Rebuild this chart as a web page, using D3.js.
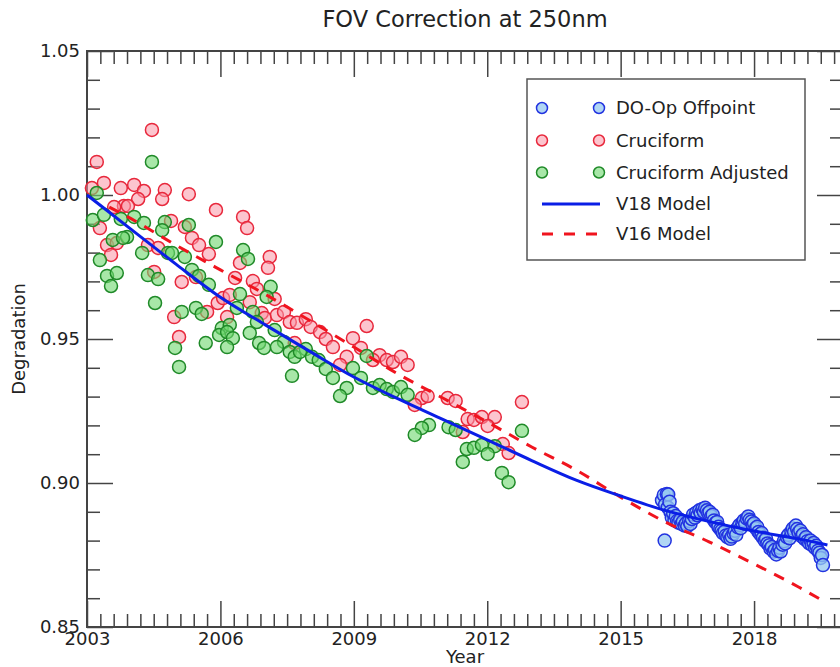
<!doctype html>
<html lang="en">
<head>
<meta charset="UTF-8">
<title>FOV Correction</title>
<style>
    body { margin: 0; background: #fff; }
    text { font-family: "DejaVu Sans", sans-serif; fill: #222; }
</style>
</head>
<body>
<div id="chart"></div>
<script src="https://d3js.org/d3.v7.min.js"></script>
<script>

    const title = 'FOV Correction at 250nm'
    const xLabel = 'Year'
    const yLabel = 'Degradation'

    const xTickLabels = [2003, 2006, 2009, 2012, 2015, 2018]
    const yTickLabels = [0.85, 0.90, 0.95, 1.00, 1.05]

    // Cruciform (red), [year, value]
    const cruciform = [
        [2003.22,1.0115],[2004.46,1.0226],[2003.11,1.0024],[2003.38,1.0042],[2003.76,1.0024],
        [2004.06,1.0035],[2004.28,1.0014],[2004.75,1.0017],[2004.69,0.9986],[2005.29,1.0003],
        [2005.90,0.9948],[2004.15,0.9986],[2003.83,0.9962],[2003.92,0.9962],[2003.61,0.9958],
        [2004.89,0.9910],[2005.20,0.9889],[2003.29,0.9885],[2005.36,0.9851],[2005.52,0.9826],
        [2005.74,0.9795],[2003.45,0.9826],[2003.54,0.9792],[2003.67,0.9833],[2004.37,0.9826],
        [2004.60,0.9816],[2004.51,0.9733],[2005.13,0.9698],[2005.45,0.9715],[2005.94,0.9625],
        [2004.96,0.9576],[2005.07,0.9507],[2005.70,0.9594],[2006.06,0.9642],[2006.51,0.9924],
        [2006.60,0.9885],[2007.11,0.9785],[2007.07,0.9747],[2006.44,0.9764],[2006.33,0.9712],
        [2006.73,0.9701],[2006.82,0.9674],[2006.21,0.9653],[2006.66,0.9628],[2007.22,0.9639],
        [2006.15,0.9576],[2006.93,0.9590],[2007.00,0.9573],[2007.27,0.9583],[2007.43,0.9594],
        [2007.56,0.9559],[2007.72,0.9556],[2007.92,0.9569],[2008.03,0.9542],[2008.24,0.9524],
        [2008.37,0.9500],[2008.53,0.9472],[2008.98,0.9503],[2008.84,0.9438],[2008.69,0.9410],
        [2007.67,0.9486],[2009.29,0.9545],[2009.16,0.9469],[2009.58,0.9444],[2009.74,0.9427],
        [2009.88,0.9420],[2010.06,0.9438],[2010.21,0.9410],[2009.43,0.9427],[2010.53,0.9295],
        [2010.66,0.9302],[2010.37,0.9271],[2011.11,0.9295],[2011.29,0.9285],[2012.78,0.9281],
        [2011.56,0.9222],[2011.70,0.9219],[2011.88,0.9229],[2012.17,0.9229],[2012.01,0.9198],
        [2011.45,0.9177],[2012.35,0.9135],[2012.48,0.9104]
    ]

    // Cruciform Adjusted (green)
    const cruciformAdj = [
        [2004.46,1.0115],[2003.22,1.0007],[2003.13,0.9913],[2003.38,0.9931],[2003.76,0.9917],
        [2004.06,0.9924],[2004.28,0.9903],[2004.75,0.9906],[2004.69,0.9878],[2005.29,0.9896],
        [2005.90,0.9837],[2003.58,0.9844],[2003.90,0.9854],[2003.81,0.9851],[2004.24,0.9799],
        [2003.29,0.9774],[2004.82,0.9799],[2004.91,0.9799],[2005.20,0.9785],[2005.36,0.9740],
        [2005.52,0.9719],[2005.74,0.9688],[2003.45,0.9719],[2003.67,0.9729],[2003.54,0.9684],
        [2004.37,0.9722],[2004.60,0.9708],[2004.53,0.9625],[2005.13,0.9594],[2005.45,0.9608],
        [2005.58,0.9587],[2006.03,0.9538],[2005.97,0.9514],[2005.67,0.9486],[2004.98,0.9469],
        [2005.07,0.9403],[2006.51,0.9809],[2006.62,0.9778],[2007.13,0.9681],[2007.04,0.9646],
        [2006.44,0.9656],[2006.37,0.9608],[2006.73,0.9594],[2006.82,0.9559],[2006.21,0.9549],
        [2006.15,0.9524],[2006.28,0.9503],[2006.15,0.9472],[2006.66,0.9521],[2007.22,0.9531],
        [2007.43,0.9490],[2007.27,0.9472],[2006.87,0.9486],[2006.98,0.9469],[2007.56,0.9455],
        [2007.67,0.9438],[2007.92,0.9465],[2007.79,0.9455],[2008.06,0.9438],[2008.21,0.9427],
        [2008.37,0.9396],[2008.53,0.9365],[2007.61,0.9372],[2008.84,0.9330],[2008.69,0.9302],
        [2008.98,0.9399],[2009.29,0.9441],[2009.16,0.9365],[2009.43,0.9330],[2009.58,0.9340],
        [2009.74,0.9326],[2009.88,0.9316],[2010.06,0.9333],[2010.21,0.9306],[2010.69,0.9201],
        [2010.53,0.9191],[2010.37,0.9167],[2011.13,0.9194],[2011.29,0.9184],[2012.78,0.9181],
        [2011.54,0.9118],[2011.70,0.9122],[2011.88,0.9132],[2012.17,0.9128],[2012.01,0.9101],
        [2011.45,0.9073],[2012.33,0.9035],[2012.48,0.9003]
    ]

    // DO-Op Offpoint (blue)
    const offpoint = [
        [2015.93,0.8940],[2015.97,0.8958],[2016.00,0.8925],[2016.04,0.8962],[2016.07,0.8960],
        [2015.99,0.8800],[2016.06,0.8915],[2016.10,0.8935],[2016.12,0.8900],[2016.15,0.8880],
        [2016.18,0.8895],[2016.21,0.8870],[2016.24,0.8885],[2016.27,0.8868],[2016.30,0.8862],
        [2016.34,0.8872],[2016.37,0.8858],[2016.40,0.8866],[2016.44,0.8852],[2016.47,0.8860],
        [2016.50,0.8850],[2016.54,0.8868],[2016.57,0.8858],[2016.60,0.8875],[2016.63,0.8890],
        [2016.67,0.8880],[2016.70,0.8897],[2016.73,0.8888],[2016.77,0.8905],[2016.80,0.8895],
        [2016.84,0.8910],[2016.87,0.8900],[2016.90,0.8914],[2016.94,0.8905],[2016.97,0.8895],
        [2017.00,0.8900],[2017.04,0.8885],[2017.07,0.8890],[2017.10,0.8870],[2017.14,0.8862],
        [2017.17,0.8865],[2017.20,0.8848],[2017.24,0.8840],[2017.27,0.8835],[2017.30,0.8826],
        [2017.34,0.8832],[2017.37,0.8818],[2017.40,0.8812],[2017.44,0.8820],[2017.47,0.8806],
        [2017.50,0.8814],[2017.54,0.8825],[2017.57,0.8834],[2017.60,0.8820],[2017.64,0.8846],
        [2017.67,0.8854],[2017.70,0.8843],[2017.74,0.8862],[2017.77,0.8870],[2017.80,0.8858],
        [2017.84,0.8876],[2017.87,0.8884],[2017.90,0.8872],[2017.94,0.8866],[2017.97,0.8855],
        [2018.00,0.8860],[2018.04,0.8843],[2018.07,0.8848],[2018.10,0.8830],[2018.14,0.8822],
        [2018.17,0.8826],[2018.20,0.8810],[2018.24,0.8800],[2018.27,0.8806],[2018.30,0.8790],
        [2018.34,0.8784],[2018.37,0.8772],[2018.40,0.8778],[2018.44,0.8762],[2018.47,0.8768],
        [2018.50,0.8752],[2018.54,0.8764],[2018.57,0.8775],[2018.60,0.8762],[2018.64,0.8786],
        [2018.67,0.8798],[2018.70,0.8790],[2018.74,0.8812],[2018.77,0.8820],[2018.80,0.8808],
        [2018.84,0.8832],[2018.87,0.8842],[2018.90,0.8830],[2018.94,0.8852],[2018.97,0.8840],
        [2019.00,0.8828],[2019.04,0.8835],[2019.07,0.8815],[2019.10,0.8822],[2019.14,0.8805],
        [2019.17,0.8812],[2019.20,0.8798],[2019.24,0.8790],[2019.27,0.8800],[2019.30,0.8785],
        [2019.34,0.8792],[2019.37,0.8775],[2019.40,0.8782],[2019.44,0.8765],[2019.47,0.8758],
        [2019.50,0.8740],[2019.53,0.8750],[2019.55,0.8715]
    ]

    // models
    const v18Years = [2003, 2004, 2005, 2006, 2007, 2008, 2009, 2010, 2011, 2012, 2013, 2014, 2015, 2016, 2017, 2018, 2019, 2019.65]
    const v18Values = [1.000, 0.988, 0.976, 0.9645, 0.955, 0.9458, 0.9368, 0.9292, 0.9221, 0.915, 0.9078, 0.9010, 0.8955, 0.8905, 0.8866, 0.8833, 0.8806, 0.8785]
    const v16Years = [2003.5, 2004, 2005, 2006, 2007, 2008, 2009, 2010, 2011, 2012, 2013, 2014, 2015, 2016, 2017, 2018, 2019, 2019.48]
    const v16Values = [0.9958, 0.9917, 0.9826, 0.974, 0.9656, 0.9565, 0.9472, 0.9378, 0.9295, 0.9212, 0.9125, 0.9045, 0.8951, 0.8865, 0.8795, 0.8719, 0.8639, 0.8597]

    const legendLabels = ['DO-Op Offpoint', 'Cruciform', 'Cruciform Adjusted', 'V18 Model', 'V16 Model']

    const W = 840, H = 667
    const margin = { top: 51, right: -3, bottom: 40, left: 87 }
    const width = W - margin.left - margin.right
    const height = H - margin.top - margin.bottom

    const svg = d3.select('#chart').append('svg')
        .attr('width', W).attr('height', H)
    const g = svg.append('g')
        .attr('transform', 'translate(' + margin.left + ',' + margin.top + ')')

    const x = d3.scaleLinear().domain([2003, 2020]).range([0, width])
    const y = d3.scaleLinear().domain([0.85, 1.05]).range([height, 0])

    const xMinor = d3.range(2003, 2020.01, 0.3).filter(v => Math.abs((v - 2003) % 3) > 0.01 && Math.abs((v - 2003) % 3 - 3) > 0.01)
    const yMinor = d3.range(0.85, 1.0501, 0.01).filter(v => Math.abs(v * 20 - Math.round(v * 20)) > 0.01)

    // axes: major + minor, all four sides, ticks pointing inward
    function addAxis(axisFn, transform, values, size, fmt, pad) {
        const a = axisFn.tickValues(values).tickSize(size).tickSizeOuter(0).tickPadding(pad)
        if (fmt) a.tickFormat(fmt)
        else a.tickFormat('')
        const ax = g.append('g').attr('transform', transform).call(a)
        ax.select('.domain').remove()
        ax.selectAll('line').attr('stroke', '#444').attr('stroke-width', 1.5)
        ax.selectAll('text').style('font-size', '18px').attr('fill', '#222')
        return ax
    }
    addAxis(d3.axisBottom(x), 'translate(0,' + height + ')', xTickLabels, -26, d3.format('d'), 5)
    addAxis(d3.axisBottom(x), 'translate(0,' + height + ')', xMinor, -13, null, 5)
    addAxis(d3.axisTop(x), 'translate(0,0)', xTickLabels, -26, null, 5)
    addAxis(d3.axisTop(x), 'translate(0,0)', xMinor, -13, null, 5)
    addAxis(d3.axisLeft(y), 'translate(0,0)', yTickLabels, -26, d3.format('.2f'), 7)
    addAxis(d3.axisLeft(y), 'translate(0,0)', yMinor, -13, null, 7)
    addAxis(d3.axisRight(y), 'translate(' + width + ',0)', yTickLabels, -26, null, 7)
    addAxis(d3.axisRight(y), 'translate(' + width + ',0)', yMinor, -13, null, 7)

    g.append('rect')
        .attr('width', width).attr('height', height)
        .attr('fill', 'none').attr('stroke', '#444').attr('stroke-width', 2)

    // scatter
    const styles = {
        red: { stroke: '#e8283c', fill: 'rgba(250,150,165,0.55)' },
        green: { stroke: '#1f8a28', fill: 'rgba(110,215,110,0.6)' },
        blue: { stroke: '#2233e0', fill: 'rgba(150,200,240,0.75)' }
    }
    function dots(data, st) {
        g.append('g').selectAll('circle')
            .data(data).enter().append('circle')
            .attr('cx', d => x(d[0])).attr('cy', d => y(d[1]))
            .attr('r', 6.5)
            .attr('fill', st.fill).attr('stroke', st.stroke).attr('stroke-width', 1.5)
    }
    dots(cruciform, styles.red)
    dots(cruciformAdj, styles.green)
    dots(offpoint, styles.blue)

    // model lines
    const line = d3.line().x(d => x(d[0])).y(d => y(d[1])).curve(d3.curveMonotoneX)
    g.append('path')
        .datum(v16Years.map((t, i) => [t, v16Values[i]]))
        .attr('d', line).attr('fill', 'none')
        .attr('stroke', '#f0141e').attr('stroke-width', 3).attr('stroke-dasharray', '11,9')
    g.append('path')
        .datum(v18Years.map((t, i) => [t, v18Values[i]]))
        .attr('d', line).attr('fill', 'none')
        .attr('stroke', '#0a1ee6').attr('stroke-width', 3)

    // legend
    const lg = svg.append('g').attr('transform', 'translate(527,79)')
    lg.append('rect').attr('width', 278).attr('height', 181)
        .attr('fill', '#fff').attr('stroke', '#555').attr('stroke-width', 1.5)
    const rowY = [29, 61.5, 93.5, 125, 155]
    const markerSt = [styles.blue, styles.red, styles.green]
    legendLabels.forEach(function(lab, i) {
        const row = lg.append('g').attr('transform', 'translate(0,' + rowY[i] + ')')
        if (i < 3) {
            [15, 72].forEach(function(cx) {
                row.append('circle').attr('cx', cx).attr('cy', 0).attr('r', 5.5)
                    .attr('fill', markerSt[i].fill).attr('stroke', markerSt[i].stroke).attr('stroke-width', 1.5)
            })
        } else {
            row.append('line').attr('x1', 15).attr('x2', 73).attr('y1', 0).attr('y2', 0)
                .attr('stroke', i === 3 ? '#0a1ee6' : '#f0141e').attr('stroke-width', 3)
                .attr('stroke-dasharray', i === 3 ? null : '11,11')
        }
        row.append('text').attr('x', 89).attr('dy', '0.35em')
            .style('font-size', '18px').text(lab)
    })

    // titles
    svg.append('text').attr('x', margin.left + width / 2).attr('y', 27)
        .attr('text-anchor', 'middle').style('font-size', '22.5px').text(title)
    svg.append('text').attr('x', margin.left + width / 2).attr('y', 663)
        .attr('text-anchor', 'middle').style('font-size', '18px').text(xLabel)
    svg.append('text').attr('transform', 'translate(25,' + (margin.top + height / 2) + ') rotate(-90)')
        .attr('text-anchor', 'middle').style('font-size', '18px').text(yLabel)

</script>
</body>
</html>
